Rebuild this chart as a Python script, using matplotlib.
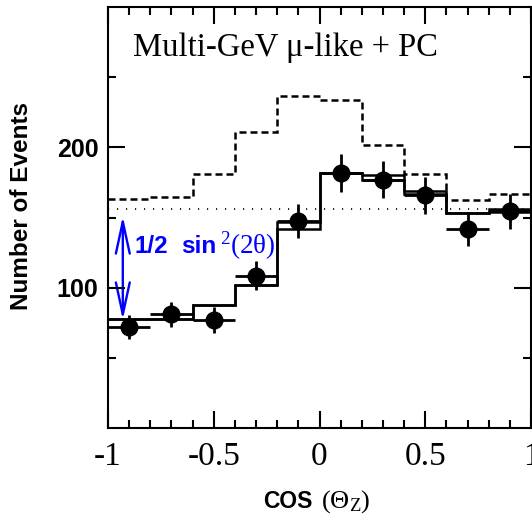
import numpy as np
import matplotlib
matplotlib.use('Agg')
import matplotlib.pyplot as plt
from matplotlib.ticker import FixedLocator, MultipleLocator
from matplotlib.patches import FancyArrowPatch

plt.rcParams['axes.unicode_minus'] = False
plt.rcParams['mathtext.fontset'] = 'custom'
plt.rcParams['mathtext.rm'] = 'Liberation Serif'
plt.rcParams['mathtext.it'] = 'Liberation Serif'
plt.rcParams['mathtext.bf'] = 'Liberation Sans:bold'

# ---- data ----
edges = [-1.0, -0.8, -0.6, -0.4, -0.2, 0.0, 0.2, 0.4, 0.6, 0.8, 1.0]
centers = [-0.9, -0.7, -0.5, -0.3, -0.1, 0.1, 0.3, 0.5, 0.7, 0.9]
data_counts = [72, 81, 77, 108.6, 147.5, 181.6, 177, 165.7, 142, 154.5]
data_err = [8.5, 9, 9, 10.5, 12, 13.5, 13.3, 12.9, 12, 12.4]
mc_noosc = [163, 164.5, 181, 211, 236.4, 233.6, 202, 181, 162.6, 166.5]
mc_fit_a = [78, 78, 87.6, 102, 147, 182, 180, 169, 153, 156]
mc_fit_b = [78, 78, 87.6, 102, 142, 182, 177, 166.5, 153, 154]
half_level = 156
arrow_bottom = 75

fig = plt.figure(figsize=(5.32, 5.2), dpi=100)
ax = fig.add_axes([108/532, 1 - 428/520, 423/532, 421/520])

ax.stairs(mc_noosc, edges, color='k', lw=1.8, ls=(0, (2.8, 1.6)), baseline=None)
ax.stairs(mc_fit_a, edges, color='k', lw=1.8, baseline=None)
ax.stairs(mc_fit_b, edges, color='k', lw=1.8, baseline=None)
ax.axhline(half_level, color='k', lw=1.2, ls=(0, (0.7, 4.7)))

ax.errorbar(centers, data_counts, xerr=0.1, yerr=data_err, fmt='o', ms=12,
            color='k', elinewidth=2, capsize=0, zorder=5)

# oscillation amplitude arrow + label
arr = FancyArrowPatch((-0.93, half_level - 3), (-0.93, arrow_bottom),
                      arrowstyle='<->,head_length=2.3,head_width=0.5',
                      mutation_scale=10, color='blue', lw=1.7)
ax.add_patch(arr)
ax.text(-0.875, 124.5, '1/2', color='blue', fontsize=17.5,
        fontweight='bold', family='Liberation Sans', va='baseline')
ax.text(-0.655, 124.5, 'sin', color='blue', fontsize=17.5,
        fontweight='bold', family='Liberation Sans', va='baseline')
ax.text(-0.47, 124.5, r'${}^{2}(2\theta)$', color='blue', fontsize=19.5,
        va='baseline')

ax.text(0.059, 0.884, 'Multi-GeV \u03bc-like + PC', transform=ax.transAxes,
        fontsize=23.5, family='Liberation Serif', va='baseline')

ax.set_xlim(-1, 1)
ax.set_ylim(0, 300)
ax.xaxis.set_major_locator(FixedLocator([-1, -0.5, 0, 0.5, 1]))
ax.xaxis.set_minor_locator(MultipleLocator(0.1))
ax.set_xticklabels(['-1', '-0.5', '0', '0.5', '1'], family='Liberation Serif', fontsize=24)
ax.yaxis.set_major_locator(FixedLocator([100, 200]))
ax.yaxis.set_minor_locator(FixedLocator([50, 150, 250]))
ax.set_yticklabels(['100', '200'], family='Liberation Sans', fontweight='bold', fontsize=18)
ax.tick_params(which='both', direction='in', top=True, right=True, width=1.5)
ax.tick_params(which='major', length=12)
ax.tick_params(which='minor', length=6)
ax.tick_params(axis='x', which='major', pad=10)
ax.tick_params(axis='y', which='major', pad=7)
for sp in ax.spines.values():
    sp.set_linewidth(1.5)

fig.text(22/532, 1 - 206/520, 'Number of Events', rotation=90, ha='center', va='center',
         family='Liberation Sans', fontweight='bold', fontsize=17.5)
fig.text(313/532, 1 - 508/520, 'COS', ha='right', va='baseline',
         family='Liberation Sans', fontweight='bold', fontsize=16.5)
fig.text(321/532, 1 - 508/520, r'$(\Theta_{\rm Z})$', ha='left', va='baseline', fontsize=19)

fig.savefig('out.png', dpi=100, facecolor='white')
